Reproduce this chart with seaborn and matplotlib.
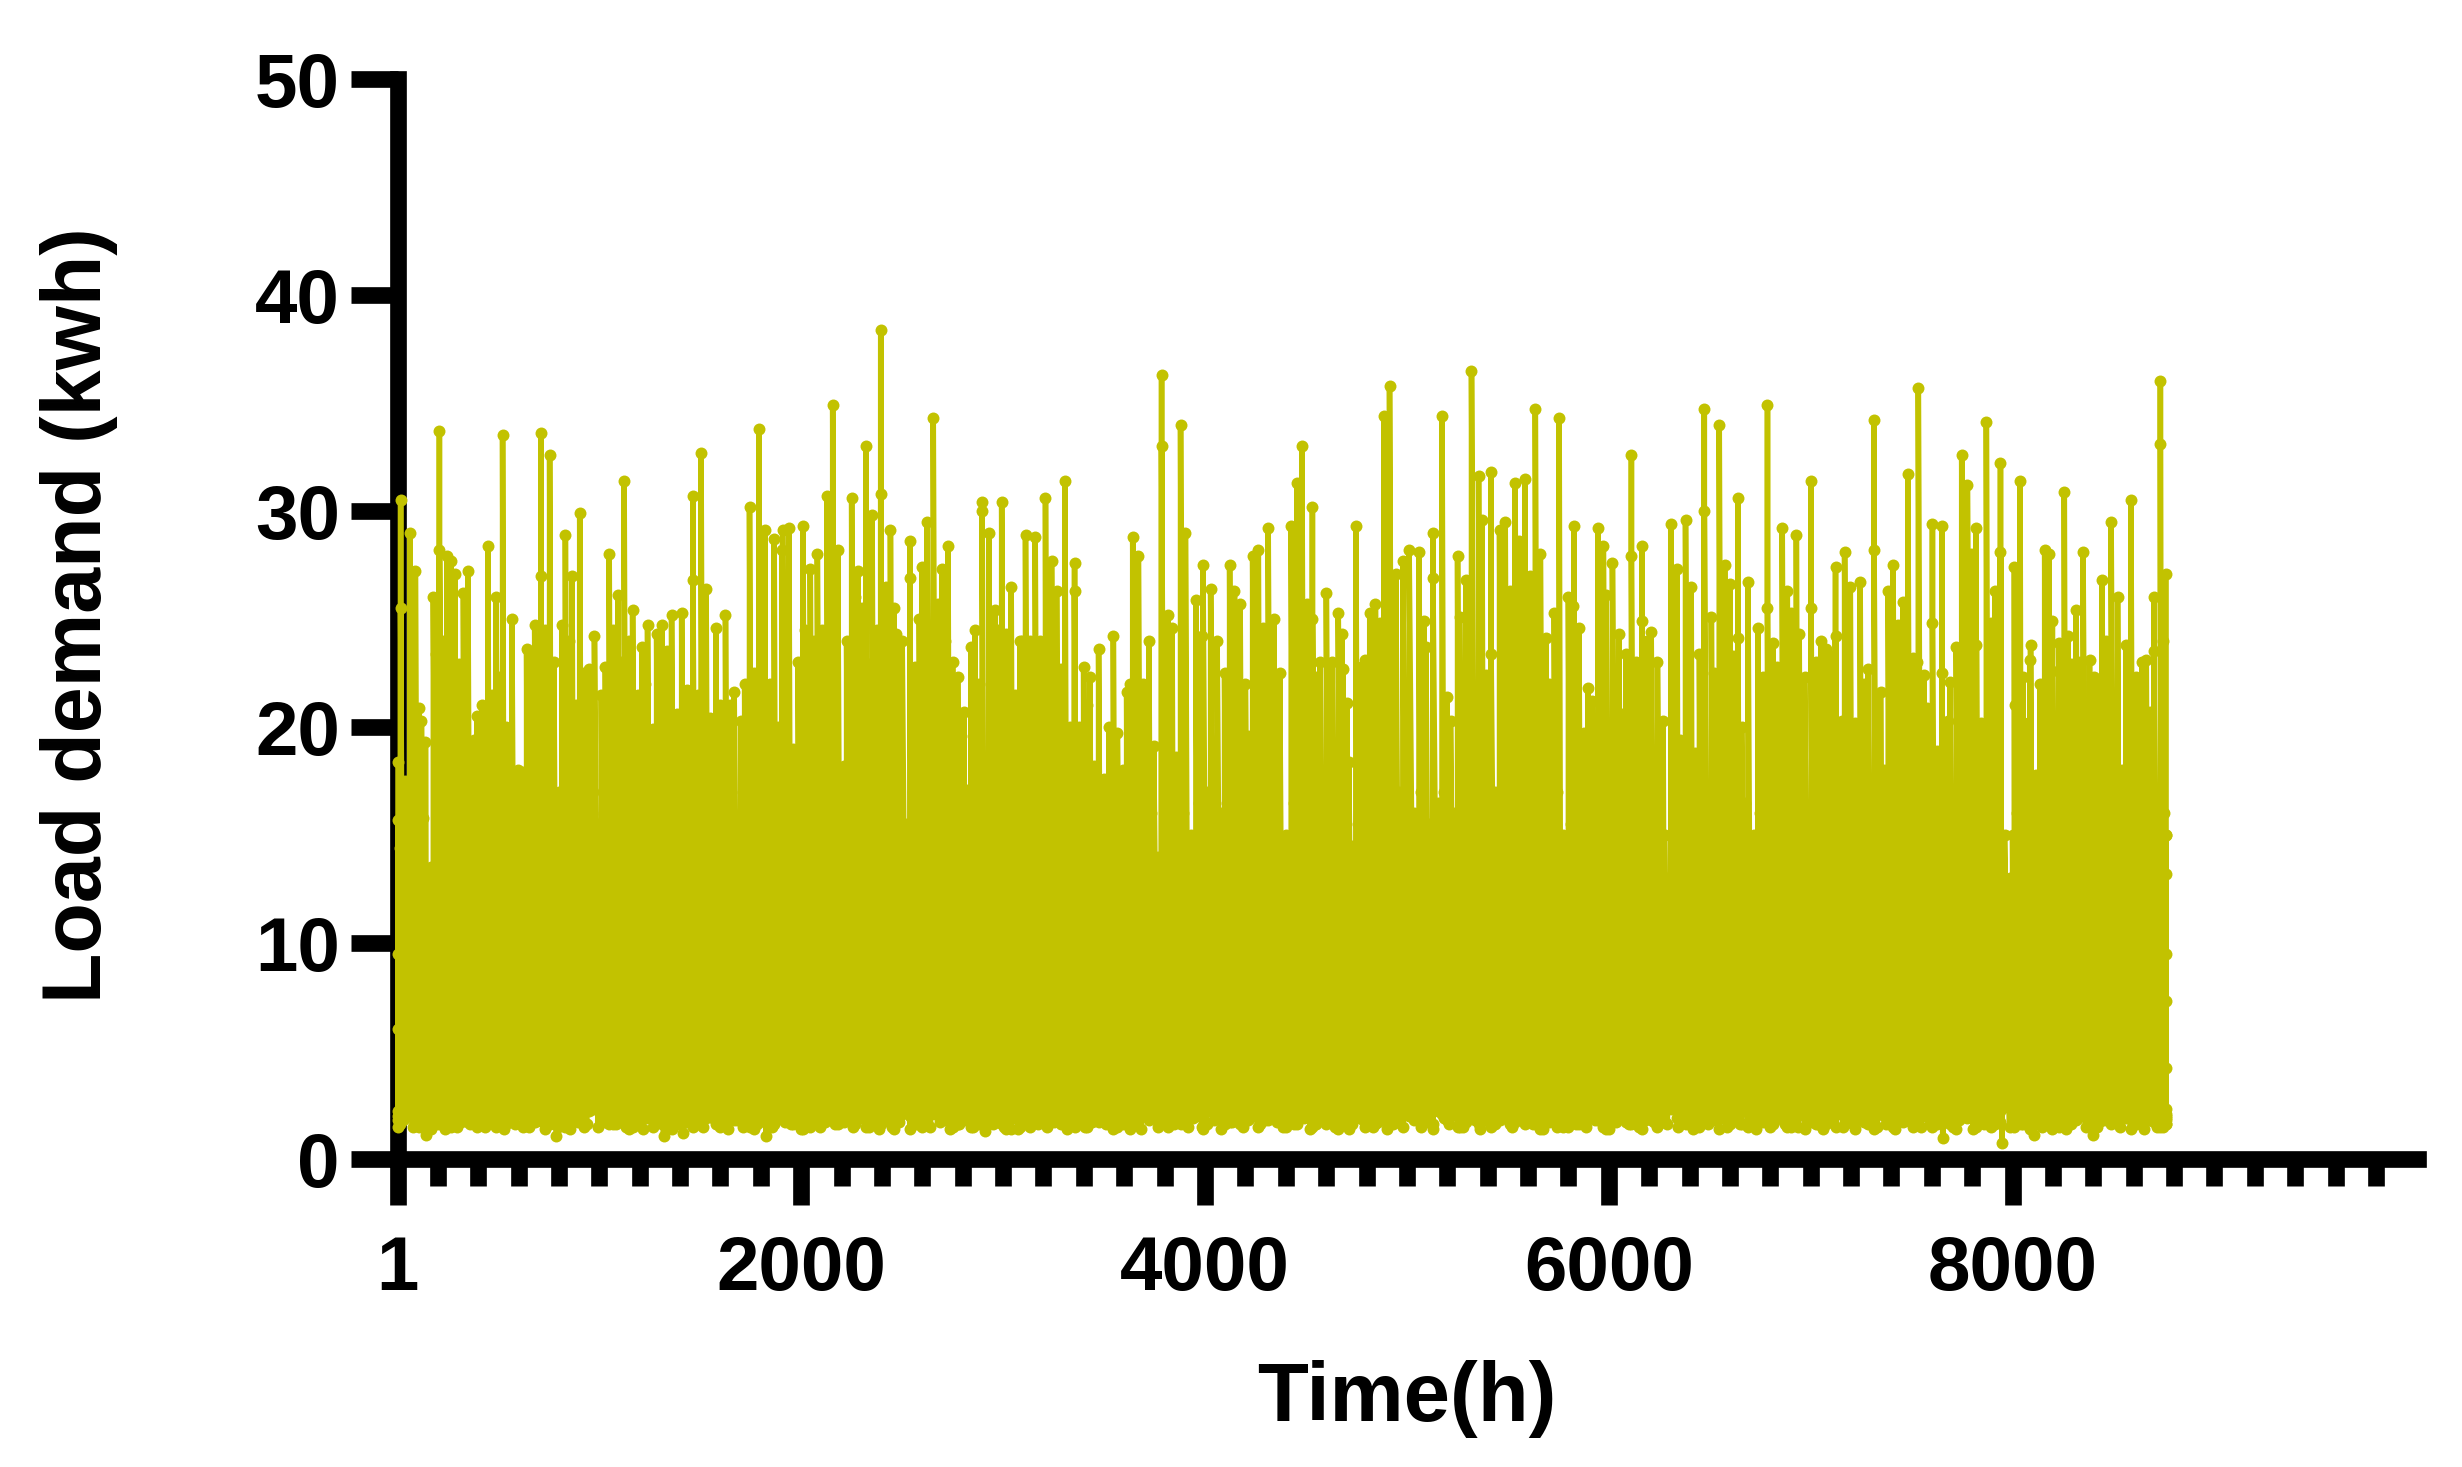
import numpy as np
import pandas as pd
import matplotlib.pyplot as plt
import seaborn as sns
from matplotlib.ticker import FixedLocator

# spikes (hour, height of the dot)
peak_hours = [
    16, 16, 61, 89, 208, 208, 178, 246, 266, 284,
    349, 327, 448, 521, 488, 567, 711, 754, 711, 680,
    640, 832, 865, 903, 976, 1049, 1092, 1123, 1165, 1239,
    1211, 1310, 1284, 1358, 1408, 1464, 1504, 1464, 1529, 1577,
    1625, 1668, 1744, 1790, 1820, 1866, 1908, 1939, 2009, 1904,
    2080, 2045, 2156, 2128, 2181, 2250, 2280, 2320, 2351, 2394,
    2394, 2442, 2472, 2538, 2538, 2624, 2654, 2598, 2727, 2697,
    2775, 2806, 2861, 2841, 2896, 2896, 2929, 2993, 2960, 3040,
    3111, 3159, 3083, 3210, 3240, 3306, 3265, 3354, 3354, 3399,
    3430, 3473, 3546, 3642, 3612, 3670, 3722, 3566, 3746, 3785,
    3785, 3879, 3903, 3816, 3837, 3955, 3990, 4028, 4122, 4146,
    4174, 4236, 4264, 4313, 4341, 4427, 4455, 4480, 4532, 4532,
    4504, 4570, 4601, 4660, 4678, 4684, 4702, 4747, 4792, 4816,
    4844, 4886, 4914, 4945, 4980, 5011, 5060, 5084, 5129, 5129,
    5174, 5199, 5251, 5292, 5320, 5355, 5372, 5417, 5417, 5459,
    5487, 5536, 5584, 5636, 5661, 5689, 5754, 5730, 5800, 5827,
    5824, 5852, 5897, 5946, 5973, 6018, 6050, 6085, 6112, 6112,
    6164, 6164, 6210, 6241, 6269, 6307, 6338, 6380, 6408, 6449,
    6473, 6473, 6508, 6547, 6574, 6599, 6640, 6640, 6689, 6738,
    6786, 6786, 6814, 6859, 6884, 6929, 6943, 6970, 7002, 7002,
    7050, 7075, 7123, 7123, 7168, 7196, 7245, 7283, 7314, 7314,
    7346, 7384, 7408, 7457, 7481, 7533, 7526, 7561, 7603, 7603,
    7651, 7651, 7690, 7721, 7748, 7776, 7818, 7821, 7870, 7912,
    7940, 7940, 8009, 8037, 8012, 8051, 8089, 8085, 8159, 8180,
    8197, 8228, 8256, 8273, 8290, 8315, 8349, 8381, 8402, 8443,
    8488, 8520, 8561, 8586, 8662, 8700, 8700, 8732, 8732, 8758,
]
peak_tops = [
    30.5, 25.5, 29.0, 27.2, 33.7, 28.2, 26.0, 27.9, 27.7, 27.1,
    27.2, 26.2, 28.4, 33.5, 26.0, 25.0, 33.6, 32.6, 27.0, 24.7,
    23.6, 28.9, 27.0, 29.9, 24.2, 28.0, 26.1, 31.4, 25.4, 24.7,
    23.7, 24.7, 24.3, 25.2, 25.3, 30.7, 32.7, 26.8, 26.4, 24.6,
    25.2, 21.6, 30.2, 33.8, 29.1, 28.7, 29.1, 29.2, 29.3, 28.2,
    28.0, 27.3, 34.9, 30.7, 28.2, 30.6, 27.2, 33.0, 29.8, 38.4,
    30.8, 29.1, 24.3, 28.6, 26.9, 29.5, 34.3, 27.4, 28.4, 27.3,
    22.3, 20.7, 24.5, 23.7, 30.4, 30.0, 29.0, 30.4, 25.4, 26.5,
    28.9, 28.8, 24.0, 30.6, 27.7, 31.4, 26.3, 27.6, 26.3, 22.8,
    22.3, 23.6, 24.2, 28.8, 21.6, 27.9, 24.0, 19.7, 19.1, 36.3,
    33.0, 34.0, 29.0, 25.2, 24.6, 25.9, 27.5, 26.4, 27.5, 26.3,
    25.7, 27.9, 28.2, 29.2, 25.0, 29.3, 31.3, 33.0, 30.2, 25.0,
    25.7, 23.0, 26.2, 25.3, 24.3, 22.7, 21.1, 29.3, 23.1, 25.3,
    25.7, 34.4, 35.8, 27.1, 27.7, 28.2, 28.1, 24.9, 29.0, 26.9,
    34.4, 21.4, 27.9, 26.8, 36.5, 31.6, 29.6, 31.8, 23.4, 29.1,
    29.5, 31.3, 31.5, 34.7, 28.0, 24.1, 34.3, 25.3, 26.0, 29.3,
    25.6, 24.6, 21.8, 29.2, 28.4, 27.6, 24.3, 23.4, 32.6, 27.9,
    28.4, 24.9, 24.4, 23.0, 20.3, 29.4, 27.3, 29.6, 26.5, 23.4,
    34.7, 30.0, 25.1, 34.0, 27.5, 26.6, 30.6, 24.1, 26.7, 24.6,
    34.9, 25.5, 23.9, 29.2, 26.3, 28.9, 24.3, 22.3, 31.4, 25.5,
    24.0, 23.6, 27.4, 24.2, 28.1, 26.5, 26.7, 22.7, 34.2, 28.2,
    21.6, 26.3, 27.5, 25.8, 31.7, 35.7, 23.0, 22.4, 29.4, 24.8,
    29.3, 22.5, 22.1, 23.7, 32.6, 31.2, 29.2, 23.8, 34.1, 26.3,
    32.2, 28.1, 27.4, 31.4, 21.0, 22.3, 23.8, 23.1, 28.2, 28.0,
    24.9, 23.9, 30.9, 24.2, 22.9, 25.4, 28.1, 23.1, 22.3, 26.8,
    29.5, 26.0, 23.8, 30.5, 23.1, 26.0, 23.5, 36.0, 33.1, 27.1,
]

# the lower readings that make up the solid body, slit bottoms included
body_hours = [
    5, 5, 40, 107, 119, 139, 165, 193, 226, 305,
    377, 395, 420, 468, 505, 540, 595, 620, 660, 695,
    732, 775, 802, 815, 848, 885, 925, 950, 1010, 1030,
    1070, 1107, 1145, 1190, 1225, 1264, 1335, 1383, 1435, 1490,
    1550, 1600, 1645, 1700, 1720, 1768, 1845, 1885, 1960, 1985,
    2020, 2065, 2105, 2210, 2225, 2265, 2300, 2335, 2375, 2420,
    2460, 2500, 2565, 2585, 2680, 2710, 2750, 2790, 2823, 2880,
    2945, 2975, 3015, 3060, 3095, 3135, 3185, 3225, 3285, 3330,
    3375, 3415, 3450, 3498, 3525, 3594, 3630, 3695, 3854, 3931,
    3983, 4060, 4097, 4200, 4215, 4285, 4370, 4400, 4511, 4549,
    4630, 4712, 4771, 4869, 5094, 5216, 5261, 5393, 5511, 5556,
    5610, 5706, 5772, 5876, 5918, 5987, 6064, 6137, 6190, 6276,
    6352, 6425, 6519, 6616, 6658, 6720, 6762, 6831, 6901, 6953,
    7026, 7102, 7154, 7220, 7265, 7363, 7432, 7509, 7578, 7627,
    7679, 7793, 7843, 7891, 7960, 8058, 8117, 8135, 8197, 8301,
    8335, 8420, 8430, 8465, 8541, 8610, 8640, 8683, 8745, 8758,
]
body_tops = [
    18.4, 15.7, 17.5, 20.9, 20.3, 19.3, 13.5, 23.4, 24.0, 22.9,
    19.4, 20.5, 21.0, 21.5, 22.3, 20.0, 18.0, 17.9, 23.2, 24.0,
    24.5, 23.0, 17.0, 24.7, 24.0, 21.0, 22.5, 22.7, 21.5, 22.8,
    24.5, 23.0, 24.0, 21.5, 22.0, 19.9, 23.5, 20.6, 21.7, 21.5,
    20.4, 21.0, 21.0, 20.3, 22.0, 22.5, 22.0, 20.0, 19.0, 23.0,
    24.5, 24.0, 24.5, 18.2, 24.0, 26.0, 25.5, 22.9, 24.5, 26.5,
    25.5, 24.0, 22.8, 25.0, 25.7, 24.0, 23.0, 19.6, 17.1, 22.0,
    19.1, 24.5, 24.3, 21.5, 24.0, 24.0, 24.0, 25.0, 22.7, 20.0,
    20.0, 21.0, 18.2, 17.6, 20.0, 18.0, 22.0, 22.0, 18.6, 15.0,
    24.2, 24.0, 22.5, 22.0, 19.6, 24.6, 22.5, 15.0, 23.0, 22.3,
    23.0, 18.4, 22.8, 24.8, 23.7, 20.3, 25.1, 22.4, 26.3, 28.6,
    27.0, 22.0, 15.0, 19.7, 21.2, 26.1, 20.6, 23.0, 24.0, 15.0,
    19.4, 18.8, 22.5, 23.3, 20.0, 15.0, 22.3, 22.8, 25.3, 19.7,
    23.0, 23.3, 20.3, 20.2, 22.0, 18.0, 24.7, 23.2, 20.9, 18.9,
    20.3, 28.0, 20.2, 24.8, 15.0, 20.2, 17.8, 22.0, 22.6, 18.5,
    23.0, 22.0, 21.7, 24.0, 18.0, 22.3, 23.0, 20.7, 24.0, 15.0,
]

# readings that stay under the slits and close the lower part of the block
under_hours = [
    12, 28, 50, 76, 99, 128, 152, 171, 200, 236,
    256, 275, 296, 316, 338, 362, 386, 408, 434, 458,
    478, 512, 530, 553, 581, 607, 630, 650, 670, 703,
    722, 743, 765, 795, 824, 840, 857, 875, 894, 914,
    937, 963, 993, 1020, 1040, 1060, 1081, 1100, 1115, 1134,
    1155, 1178, 1201, 1218, 1252, 1274, 1297, 1326, 1347, 1371,
    1396, 1426, 1450, 1477, 1516, 1540, 1563, 1589, 1612, 1635,
    1657, 1684, 1710, 1732, 1756, 1779, 1805, 1835, 1856, 1876,
    1895, 1922, 1950, 1973, 1997, 2032, 2055, 2072, 2092, 2116,
    2142, 2168, 2195, 2238, 2258, 2290, 2310, 2328, 2343, 2363,
    2385, 2407, 2431, 2451, 2486, 2520, 2552, 2575, 2611, 2639,
    2667, 2689, 2718, 2738, 2762, 2782, 2815, 2832, 2851, 2870,
    2888, 2920, 2952, 2984, 3004, 3028, 3050, 3072, 3103, 3123,
    3147, 3172, 3197, 3218, 3232, 3252, 3275, 3295, 3318, 3342,
    3365, 3387, 3407, 3440, 3462, 3486, 3512, 3536, 3556, 3580,
    3603, 3621, 3656, 3683, 3709, 3734, 3765, 3800, 3826, 3846,
    3866, 3891, 3917, 3943, 3969, 4008, 4044, 4078, 4110, 4134,
    4160, 4187, 4225, 4250, 4274, 4299, 4327, 4355, 4385, 4413,
    4441, 4467, 4492, 4520, 4560, 4585, 4615, 4645, 4692, 4730,
    4760, 4782, 4804, 4830, 4857, 4878, 4900, 4930, 4962, 4996,
    5036, 5072, 5111, 5152, 5186, 5208, 5234, 5276, 5306, 5338,
    5364, 5382, 5405, 5438, 5473, 5499, 5523, 5546, 5570, 5597,
    5623, 5648, 5675, 5698, 5718, 5742, 5763, 5786, 5812, 5838,
    5864, 5886, 5907, 5932, 5960, 6002, 6034, 6075, 6098, 6125,
    6150, 6177, 6200, 6225, 6255, 6290, 6322, 6345, 6366, 6394,
    6416, 6437, 6461, 6490, 6533, 6560, 6587, 6607, 6628, 6649,
    6673, 6704, 6728, 6750, 6774, 6800, 6822, 6845, 6872, 6892,
    6915, 6936, 6962, 6986, 7014, 7038, 7062, 7088, 7112, 7138,
    7161, 7182, 7208, 7232, 7255, 7274, 7298, 7330, 7354, 7373,
    7396, 7420, 7444, 7469, 7495, 7517, 7547, 7570, 7590, 7615,
    7639, 7665, 7705, 7734, 7762, 7805, 7830, 7856, 7880, 7901,
    7926, 7985, 8000, 8023, 8044, 8070, 8102, 8126, 8147, 8170,
    8188, 8212, 8242, 8264, 8282, 8308, 8325, 8365, 8392, 8412,
    8455, 8476, 8504, 8530, 8550, 8573, 8598, 8625, 8651, 8672,
    8692, 8716, 8752, 8760, 8760, 8760, 8760, 8760, 2, 2,
]
under_tops = [
    14.4, 11.7, 15.5, 16.0, 16.5, 15.8, 12.0, 13.0, 17.0, 16.5,
    16.0, 15.5, 17.0, 16.0, 15.5, 16.5, 17.0, 15.5, 16.5, 15.0,
    16.5, 15.5, 16.0, 17.0, 15.0, 14.5, 15.5, 16.5, 17.0, 15.0,
    16.5, 17.0, 16.5, 13.5, 14.0, 16.0, 17.0, 15.5, 16.5, 17.0,
    15.5, 16.0, 15.5, 17.0, 16.5, 15.0, 16.0, 17.0, 15.5, 16.5,
    15.0, 16.5, 17.0, 15.5, 16.0, 14.5, 16.5, 17.0, 15.0, 16.0,
    17.0, 15.5, 16.5, 15.0, 16.0, 17.0, 15.5, 16.5, 15.0, 17.0,
    16.0, 15.5, 17.0, 16.5, 15.0, 16.0, 14.5, 17.0, 16.5, 15.5,
    16.0, 17.0, 15.5, 16.5, 15.0, 17.0, 16.0, 15.5, 16.5, 17.0,
    15.0, 16.0, 16.5, 15.5, 17.0, 16.0, 15.0, 16.5, 17.0, 15.5,
    16.5, 17.0, 15.0, 16.0, 16.5, 15.5, 17.0, 16.0, 15.0, 16.5,
    17.0, 15.5, 16.0, 16.5, 15.0, 14.0, 13.0, 14.5, 15.5, 16.0,
    14.5, 16.5, 15.0, 17.0, 16.0, 15.5, 16.5, 17.0, 15.0, 16.0,
    16.5, 17.0, 15.5, 16.0, 15.0, 16.5, 17.0, 15.5, 16.0, 15.0,
    16.5, 15.5, 16.0, 15.0, 14.5, 15.0, 16.0, 15.5, 14.5, 15.0,
    14.0, 15.5, 16.5, 17.0, 15.0, 16.0, 14.0, 16.5, 15.5, 15.0,
    15.5, 16.0, 13.0, 13.5, 16.5, 17.0, 15.5, 16.0, 16.5, 17.0,
    15.0, 16.0, 14.5, 16.5, 17.0, 15.5, 16.0, 15.0, 13.0, 13.0,
    16.5, 17.0, 15.5, 16.0, 16.5, 15.0, 17.0, 15.5, 16.0, 14.5,
    15.5, 16.5, 17.0, 15.0, 16.0, 17.5, 16.5, 15.5, 17.0, 16.5,
    16.0, 17.0, 15.5, 16.5, 17.0, 15.0, 16.0, 15.5, 17.0, 16.5,
    17.5, 16.0, 15.5, 17.0, 16.5, 15.0, 16.0, 17.0, 16.5, 15.5,
    16.0, 17.5, 16.5, 15.0, 16.0, 17.0, 13.0, 13.0, 15.5, 17.0,
    16.5, 15.0, 16.0, 17.0, 16.5, 15.5, 17.0, 16.0, 15.0, 16.5,
    17.0, 15.5, 16.0, 16.5, 13.0, 13.0, 14.5, 15.5, 16.0, 15.0,
    14.5, 15.5, 16.5, 17.0, 15.0, 16.0, 15.5, 16.5, 17.0, 15.0,
    16.5, 13.5, 13.0, 16.0, 17.0, 15.5, 16.5, 15.0, 17.0, 16.0,
    15.5, 17.0, 16.5, 14.5, 15.5, 16.0, 17.0, 15.0, 16.5, 16.0,
    15.0, 16.5, 17.0, 15.5, 16.0, 14.5, 17.0, 16.5, 15.0, 14.5,
    15.0, 16.5, 17.0, 15.5, 16.0, 16.5, 17.0, 15.0, 15.5, 14.5,
    16.0, 16.5, 15.0, 17.0, 16.0, 15.5, 16.5, 15.0, 17.0, 16.5,
    13.0, 13.0, 15.0, 16.0, 17.0, 15.5, 14.5, 15.0, 16.5, 16.0,
    15.5, 17.0, 16.5, 15.0, 15.5, 14.5, 16.0, 17.0, 16.5, 15.0,
    16.0, 17.0, 15.5, 16.0, 15.0, 16.5, 17.0, 15.5, 16.0, 15.0,
    16.5, 15.5, 16.0, 15.0, 13.2, 9.5, 7.3, 4.2, 9.5, 6.0,
]

# lowest dots under the spikes
floor_values = [
    2.4, 1.9, 2.1, 1.7, 2.0, 1.6, 2.2, 1.8, 1.5, 2.0,
    1.7, 2.3, 1.6, 1.9, 1.5, 2.1, 1.8, 1.6, 2.2, 1.7,
    1.9, 1.5, 2.0, 1.8, 2.3, 1.6, 1.7, 2.1, 1.5, 1.9,
    2.2, 1.6, 1.8, 1.4, 2.0, 1.7, 2.4, 1.5, 1.9, 1.6,
    2.1, 1.8, 1.5, 2.2, 1.7, 1.6, 2.0, 1.9, 1.4, 2.3,
    1.7, 1.5, 2.1, 1.8, 1.6, 2.0, 2.2, 1.5, 1.7, 1.9,
    1.6, 2.3, 1.8, 1.4, 2.0, 1.7, 2.1, 1.5, 1.9, 2.2,
    1.6, 1.8, 2.4, 1.5, 1.7, 2.0, 1.9, 1.6, 2.1, 1.4,
    1.8, 2.2, 1.5, 1.7, 2.0, 1.6, 2.3, 1.9, 1.5, 1.8,
    2.1, 1.7, 1.4, 2.0, 1.6, 2.2, 1.8, 1.5, 1.9, 2.4,
    1.7, 1.6, 2.1, 1.5, 1.8, 2.0, 1.4, 2.2, 1.7, 1.9,
    1.6, 2.3, 1.5, 1.8, 2.1, 1.7, 1.6, 2.0, 1.9, 1.5,
    2.2, 1.8, 1.6, 1.4, 2.1, 1.7, 2.4, 1.9, 1.5, 2.0,
    1.6, 1.8, 2.2, 1.7, 1.5, 2.0, 1.9, 2.3, 1.6, 1.4,
    2.1, 1.8, 1.5, 1.7, 2.2, 1.6, 1.9, 2.0, 1.5, 1.8,
    2.3, 1.7, 1.6, 2.1, 1.4, 1.9, 1.8, 2.2, 1.5, 1.7,
    2.0, 1.6, 2.4, 1.8, 1.5, 1.9, 2.1, 1.7, 1.6, 2.0,
    1.4, 2.2, 1.8, 1.5, 1.7, 2.3, 1.9, 1.6, 2.0, 1.5,
    2.1, 1.7, 1.8, 1.4, 2.2, 1.6, 1.9, 2.0, 1.5, 2.4,
    1.7, 1.8, 1.6, 2.1, 1.5, 1.9, 2.3, 1.4, 1.7, 2.0,
    1.8, 1.6, 2.2, 1.5, 1.9, 1.7, 2.1, 1.6, 1.4, 2.0,
    2.3, 1.8, 1.5, 1.7, 1.9, 2.2, 1.6, 2.0, 1.5, 1.8,
    2.4, 1.7, 1.6, 1.4, 2.1, 1.9, 1.5, 2.0, 1.8, 1.6,
    2.2, 1.7, 1.5, 1.9, 2.3, 1.6, 1.8, 1.4, 2.1, 1.7,
    2.0, 1.5, 1.9, 2.2, 1.6, 1.8, 2.4, 1.7, 1.5, 2.0,
    1.6, 2.1, 1.9, 1.4, 1.8, 2.3, 1.7, 1.5, 2.0, 1.6,
    2.2, 1.8, 1.9, 1.5, 1.7, 2.1, 1.4, 1.6, 2.0, 2.4,
    1.8, 1.5, 1.7, 2.2, 1.9, 1.6, 2.1, 1.5, 2.0, 1.8,
    1.4, 2.3, 1.7, 1.6, 1.9, 2.0, 1.5, 2.2, 1.8, 1.7,
    1.6, 2.1, 1.4, 1.9, 2.4, 1.5, 1.8, 2.0, 1.7, 1.6,
    2.2, 1.5, 1.9, 1.8, 2.3, 1.4, 1.7, 2.1, 1.6, 2.0,
    1.5, 1.8, 2.2, 1.7, 1.9, 1.6, 2.4, 1.5, 2.0, 1.8,
    1.4, 2.1, 1.7, 1.6, 2.3, 1.9, 1.5, 1.8, 2.0, 1.6,
    2.2, 1.7, 1.4, 1.9, 2.1, 1.5, 1.8, 2.4, 1.6, 1.7,
    2.0, 1.5, 2.2, 1.9, 1.8, 1.6, 1.4, 2.3, 1.7, 2.1,
    1.5, 1.9, 1.6, 2.0, 1.8, 2.2, 1.7, 1.5, 2.4, 1.6,
    1.9, 1.4, 2.1, 1.8, 1.7, 2.0, 1.5, 2.3, 1.6, 1.9,
    2.2, 1.7, 1.5, 1.8, 2.0, 1.4, 2.1, 1.6, 1.9, 1.7,
    2.4, 1.5, 1.8, 2.2, 1.6, 2.0, 1.7, 1.9, 1.5, 2.1,
    1.6, 1.8, 2.3, 1.4, 1.7, 2.0, 1.9, 1.5, 2.2, 1.6,
    1.8, 2.1, 1.7, 1.5, 2.4, 1.9, 1.6, 2.0, 1.4, 1.8,
    2.2, 1.5, 1.7, 1.9, 2.1, 1.6, 2.3, 1.8, 1.5, 2.0,
]

# the few dots that hang lower than the rest
dip_hours = [142, 788, 1318, 1417, 1826, 2910, 7654, 7947, 8107, 8400, 8737]
dip_tops = [9.0, 11.0, 8.5, 12.0, 10.0, 9.5, 12.5, 8.0, 11.5, 10.5, 13.0]
dip_lows = [1.1, 1.06, 1.06, 1.2, 1.06, 1.3, 0.97, 0.74, 1.1, 1.1, 2.0]

x_major = [1, 2000, 4000, 6000, 8000]
x_minor = [200, 400, 600, 800, 1000, 1200, 1400, 1600, 1800,
           2200, 2400, 2600, 2800, 3000, 3200, 3400, 3600, 3800,
           4200, 4400, 4600, 4800, 5000, 5200, 5400, 5600, 5800,
           6200, 6400, 6600, 6800, 7000, 7200, 7400, 7600, 7800,
           8200, 8400, 8600, 8800, 9000, 9200, 9400, 9600, 9800]
y_major = [0, 10, 20, 30, 40, 50]

hours = peak_hours + body_hours
tops = peak_tops + body_tops
spikes = pd.DataFrame({'hour': hours, 'top': tops, 'low': floor_values[:len(hours)]})
under = pd.DataFrame({'hour': under_hours, 'top': under_tops,
                      'low': floor_values[-len(under_hours):]})
dips = pd.DataFrame({'hour': dip_hours, 'top': dip_tops, 'low': dip_lows})
spikes = pd.concat([spikes, under, dips]).sort_values('hour', kind='mergesort')

# every reading goes up to its dot and back down to the floor dot
x_long = np.repeat(spikes['hour'].values, 2)
y_long = spikes[['low', 'top']].values.ravel()

sns.set_style('ticks')
plt.rcParams['font.family'] = ['Liberation Sans', 'DejaVu Sans']
plt.rcParams['font.weight'] = 'bold'
plt.rcParams['text.color'] = 'black'
plt.rcParams['xtick.labelcolor'] = 'black'
plt.rcParams['ytick.labelcolor'] = 'black'

fig = plt.figure(figsize=(24.62, 14.67), dpi=100)
ax = fig.add_axes([397.6 / 2462, 308 / 1467, 2020.4 / 2462, 1080 / 1467])

sns.lineplot(x=x_long, y=y_long, sort=False, estimator=None, ax=ax,
             color='#c2c200', linewidth=4, marker='o', markersize=8.6,
             markeredgewidth=0, clip_on=False, zorder=5)

ax.set_xlim(1, 10008)
ax.set_ylim(0, 50)
ax.set_xticks(x_major)
ax.set_xticklabels([str(v) for v in x_major])
ax.xaxis.set_minor_locator(FixedLocator(x_minor))
ax.set_yticks(y_major)
ax.set_xlabel('')
ax.set_ylabel('')

sns.despine(ax=ax, top=True, right=True)
for side in ['left', 'bottom']:
    ax.spines[side].set_linewidth(12)
    ax.spines[side].set_color('black')

ax.tick_params(axis='x', which='major', length=33, width=12, pad=22, labelsize=55,
               color='black', labelcolor='black')
ax.tick_params(axis='x', which='minor', length=19.5, width=12, color='black')
ax.tick_params(axis='y', which='major', length=33.5, width=12, pad=8, labelsize=55,
               color='black', labelcolor='black')

fig.text(1407 / 2462, 1 - 1399 / 1467, 'Time(h)', ha='center', va='center',
         fontsize=60, fontweight='bold', color='black')
fig.text(79 / 2462, 1 - 615 / 1467, 'Load demand (kwh)', rotation=90, ha='center',
         va='center', fontsize=59.5, fontweight='bold', color='black')

fig.savefig('out.png', dpi=100, facecolor='white')
